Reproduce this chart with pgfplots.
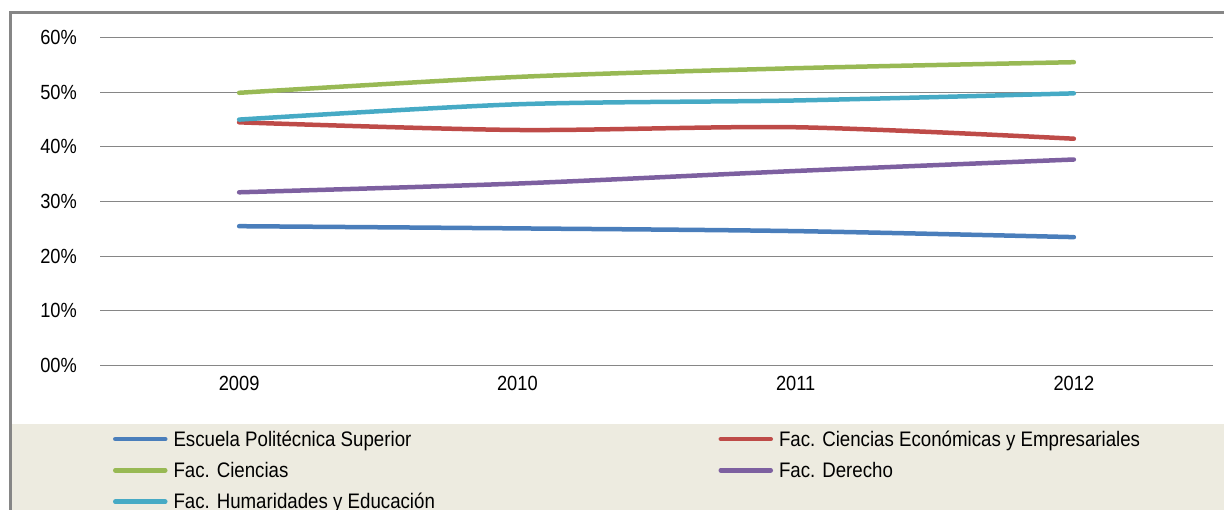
\documentclass[border=0pt]{standalone}
\usepackage{fontspec}
\setmainfont{Liberation Sans}[FakeStretch=0.89]
\usepackage{pgfplots}
\pgfplotsset{compat=1.18}
\definecolor{cBlue}{HTML}{4A7EBB}
\definecolor{cRed}{HTML}{BE4B48}
\definecolor{cGreen}{HTML}{98B954}
\definecolor{cPurple}{HTML}{7D60A0}
\definecolor{cCyan}{HTML}{46AAC5}
\definecolor{gridgray}{HTML}{868686}
\definecolor{bgbeige}{HTML}{EDEBE0}
\begin{document}
\begin{tikzpicture}[x=1pt,y=1pt]
\useasboundingbox (0,0) rectangle (1224,510);
\fill[bgbeige] (12,0) rectangle (1224,86);
\draw[gridgray, line width=2.6pt] (10.5,-5) -- (10.5,497.5) -- (1230,497.5);
\begin{axis}[
  at={(100pt,144.4pt)}, anchor=south west, scale only axis,
  width=1113pt, height=328pt,
  xmin=-0.5, xmax=3.5, ymin=0, ymax=60,
  xtick={0,1,2,3}, xticklabels={2009,2010,2011,2012},
  ytick={0,10,20,30,40,50,60}, yticklabels={00\%,10\%,20\%,30\%,40\%,50\%,60\%},
  axis line style={draw=none}, major tick length=0pt,
  ymajorgrids, grid style={color=gridgray, line width=1pt},
  tick label style={font=\fontsize{20.5}{24}\selectfont},
  yticklabel style={inner sep=0pt, xshift=-23pt},
  xticklabel style={inner sep=0pt, yshift=-10pt},
  clip=false,
  legend columns=2,
  legend cell align=left,
  legend style={at={(0.0117,-0.198)}, anchor=north west, draw=none, fill=none,
    inner sep=0pt, outer sep=0pt, row sep=14.5pt,
    font=\fontsize{21}{25}\selectfont,
    nodes={inner sep=0pt},
    /tikz/every odd column/.append style={column sep=6pt}},
  legend image code/.code={\draw[#1, line cap=round] (0pt,0pt) -- (50pt,0pt);},
  every axis plot/.append style={line width=4.5pt, smooth, line cap=round},
]
\addplot[cBlue] coordinates {(0,25.5) (1,25.1) (2,24.6) (3,23.5)};
\addlegendentry{\makebox[545pt][l]{Escuela Politécnica Superior}}
\addplot[cRed] coordinates {(0,44.5) (1,43.1) (2,43.6) (3,41.5)};
\addlegendentry{Fac. Ciencias Económicas y Empresariales}
\addplot[cGreen] coordinates {(0,49.9) (1,52.8) (2,54.4) (3,55.5)};
\addlegendentry{\makebox[545pt][l]{Fac. Ciencias}}
\addplot[cPurple] coordinates {(0,31.7) (1,33.3) (2,35.6) (3,37.7)};
\addlegendentry{Fac. Derecho}
\addplot[cCyan] coordinates {(0,45.0) (1,47.8) (2,48.5) (3,49.8)};
\addlegendentry{\makebox[545pt][l]{Fac. Humaridades y Educación}}
\end{axis}
\end{tikzpicture}
\end{document}
